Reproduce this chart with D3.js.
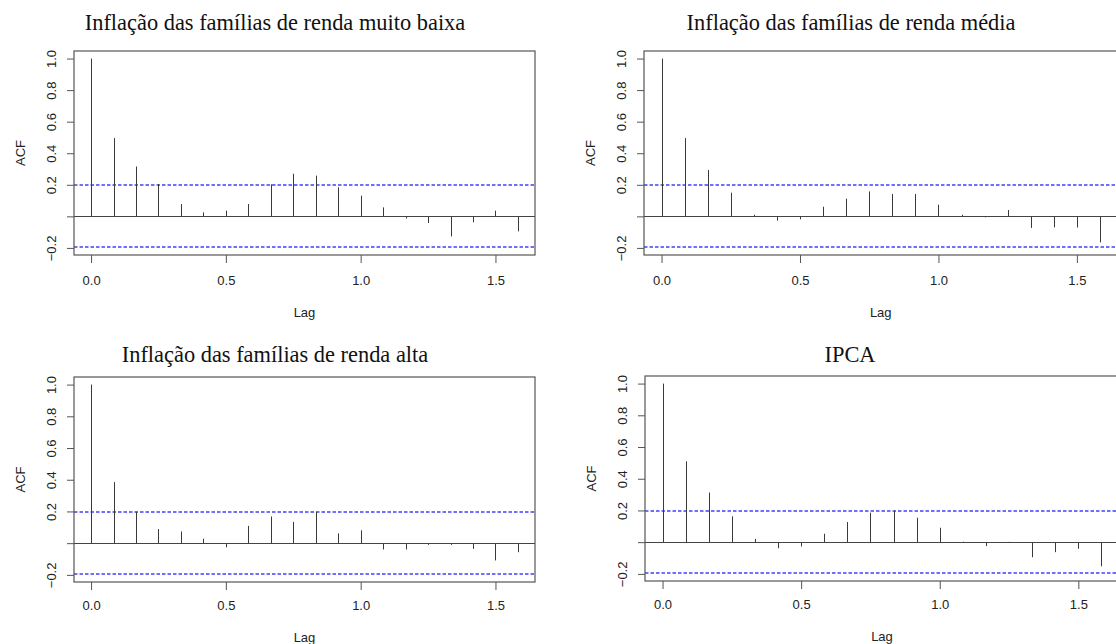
<!DOCTYPE html>
<html>
<head>
<meta charset="utf-8">
<script src="https://cdn.jsdelivr.net/npm/d3@7"></script>
<style>
  html, body { margin: 0; padding: 0; background: #fff; }
  svg { display: block; }
  .tick text { font-family: "Liberation Sans", Arial, sans-serif; font-size: 13px; fill: #222; }
  .title { font-family: "Liberation Serif", "Times New Roman", serif; font-size: 22.4px; fill: #111; }
  .axis-label { font-family: "Liberation Sans", Arial, sans-serif; font-size: 13px; fill: #222; }
</style>
</head>
<body>
<div id="chart"></div>
<script>
// lags in years (monthly series, 20 lags)
const lags = d3.range(20).map((k) => k / 12);
const titles = [
  "Inflação das famílias de renda muito baixa",
  "Inflação das famílias de renda média",
  "Inflação das famílias de renda alta",
  "IPCA",
];
const acfMuitoBaixa = [1, 0.496, 0.316, 0.205, 0.078, 0.025, 0.036, 0.078, 0.203, 0.27, 0.258, 0.184, 0.131, 0.057, -0.013, -0.042, -0.127, -0.038, 0.036, -0.095];
const acfMedia = [1, 0.496, 0.294, 0.15, 0.01, -0.027, -0.019, 0.061, 0.112, 0.158, 0.142, 0.142, 0.074, 0.01, -0.006, 0.04, -0.073, -0.07, -0.071, -0.165];
const acfAlta = [1, 0.385, 0.198, 0.089, 0.074, 0.028, -0.026, 0.109, 0.168, 0.134, 0.198, 0.062, 0.081, -0.04, -0.04, -0.011, -0.011, -0.036, -0.109, -0.057];
const acfIpca = [1, 0.51, 0.313, 0.163, 0.021, -0.038, -0.027, 0.053, 0.127, 0.186, 0.199, 0.154, 0.091, 0.003, -0.025, 0.002, -0.095, -0.063, -0.042, -0.152];
const series = [acfMuitoBaixa, acfMedia, acfAlta, acfIpca];
const ci = 0.197;
const yTicks = [-0.2, 0, 0.2, 0.4, 0.6, 0.8, 1.0];
const xTicks = [0, 0.5, 1.0, 1.5];

// plot boxes as measured in the picture, and where each title sits
const boxes = [
  { left: 74, top: 51, right: 535, bottom: 255, titleX: 275, titleY: 30 },
  { left: 644, top: 51, right: 1117.5, bottom: 255, titleX: 851, titleY: 30 },
  { left: 74, top: 377, right: 535, bottom: 582, titleX: 275, titleY: 361.5 },
  { left: 645, top: 376, right: 1119, bottom: 581, titleX: 850, titleY: 361.5 },
];

const width = 1116, height = 644;
const svg = d3.select("#chart").append("svg").attr("width", width).attr("height", height);

// R pads the data range by 4% on each side
function padded([lo, hi]) {
  const d = (hi - lo) * 0.04;
  return [lo - d, hi + d];
}
// snap a 1px line onto the pixel grid
const crisp = (v) => Math.round(v) + 0.5;

function drawPanel(i) {
  const b = boxes[i];
  const values = series[i];
  const g = svg.append("g");

  const x = d3.scaleLinear().domain(padded([0, d3.max(lags)])).range([b.left, b.right]);
  const y = d3.scaleLinear().domain(padded([Math.min(-ci, d3.min(values)), 1])).range([b.bottom, b.top]);

  // y axis: labels rotated like R, the 0.0 label dropped (overlap)
  const yAxis = g.append("g").attr("transform", `translate(${b.left},0)`)
    .call(d3.axisLeft(y).tickValues(yTicks).tickSize(7)
      .tickFormat((d) => (d === 0 ? "" : d3.format(".1f")(d))));
  yAxis.select(".domain").remove();
  yAxis.selectAll(".tick line").attr("stroke", "#555");
  yAxis.selectAll(".tick text")
    .attr("x", null).attr("dy", null)
    .attr("text-anchor", "middle")
    .attr("dominant-baseline", "central")
    .attr("transform", "translate(-23,0) rotate(-90)");

  const xAxis = g.append("g").attr("transform", `translate(0,${b.bottom})`)
    .call(d3.axisBottom(x).tickValues(xTicks).tickSize(8).tickFormat(d3.format(".1f")));
  xAxis.select(".domain").remove();
  xAxis.selectAll(".tick line").attr("stroke", "#555");
  xAxis.selectAll(".tick text").attr("y", null).attr("dy", null)
    .attr("dominant-baseline", "central")
    .attr("transform", `translate(0,${i < 2 ? 25 : 23.5})`);

  // zero line and confidence bounds
  g.append("line")
    .attr("x1", b.left).attr("x2", b.right)
    .attr("y1", crisp(y(0))).attr("y2", crisp(y(0)))
    .attr("stroke", "#444").attr("stroke-width", 1);
  g.selectAll("line.ci").data([ci, -ci]).join("line").attr("class", "ci")
    .attr("x1", b.left).attr("x2", b.right)
    .attr("y1", (d) => Math.round(y(d))).attr("y2", (d) => Math.round(y(d)))
    .attr("stroke", "#4242ff").attr("stroke-width", 1.3)
    .attr("stroke-dasharray", "3.5,2");

  // acf spikes
  g.selectAll("line.spike").data(values).join("line").attr("class", "spike")
    .attr("x1", (d, k) => crisp(x(lags[k]))).attr("x2", (d, k) => crisp(x(lags[k])))
    .attr("y1", crisp(y(0))).attr("y2", (d) => y(d))
    .attr("stroke", "#3a3a3a").attr("stroke-width", 1);

  g.append("rect")
    .attr("x", b.left).attr("y", b.top)
    .attr("width", b.right - b.left).attr("height", b.bottom - b.top)
    .attr("fill", "none").attr("stroke", "#555").attr("stroke-width", 1.2);

  g.append("text").attr("class", "title")
    .attr("x", b.titleX).attr("y", b.titleY)
    .attr("text-anchor", "middle")
    .text(titles[i]);

  g.append("text").attr("class", "axis-label")
    .attr("text-anchor", "middle").attr("dominant-baseline", "central")
    .attr("transform", `translate(${b.left - 54},${(b.top + b.bottom) / 2}) rotate(-90)`)
    .text("ACF");

  g.append("text").attr("class", "axis-label")
    .attr("x", (b.left + b.right) / 2).attr("y", b.bottom + (i < 2 ? 57 : 55))
    .attr("text-anchor", "middle").attr("dominant-baseline", "central")
    .text("Lag");
}

series.forEach((_, i) => drawPanel(i));
</script>
</body>
</html>
